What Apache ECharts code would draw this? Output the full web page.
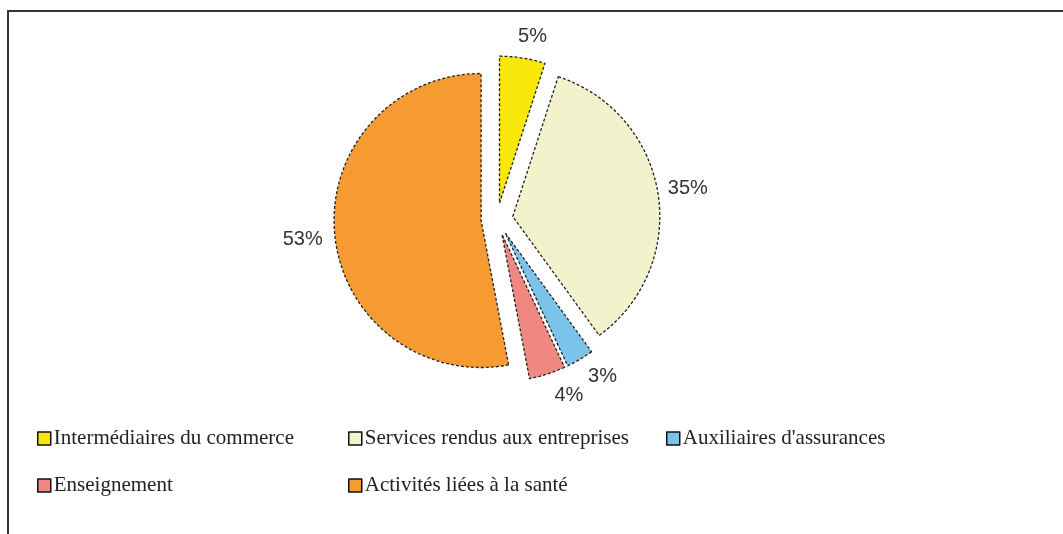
<!DOCTYPE html>
<html style="height: 100%">
   <head>
       <meta charset="utf-8">
   </head>
   <body style="height: 100%; margin: 0; background: #fff">
       <div id="container" style="width: 1063px; height: 534px"></div>
       <script type="text/javascript" src="https://cdn.jsdelivr.net/npm/echarts@6/dist/echarts.min.js"></script>
       <script type="text/javascript">
// categories, clockwise from 12 o'clock
var categories = [
    "Intermédiaires du commerce",
    "Services rendus aux entreprises",
    "Auxiliaires d'assurances",
    "Enseignement",
    "Activités liées à la santé"
];
var shares = [5, 35, 3, 4, 53];
var colors = ['#F9E60A', '#F2F2CC', '#7CC3EA', '#F08882', '#F59B32'];
// small nudges so the % labels sit where the original placed them
var labelNudge = [[-15, -12], [-9, -3], [-6, 9], [-5, 12], [7, 4]];

var dom = document.getElementById("container");
var myChart = echarts.init(dom);
option = null;

var pieData = [];
for (var i = 0; i < categories.length; i++) {
    pieData.push({
        name: categories[i],
        value: shares[i],
        selected: true,
        itemStyle: {color: colors[i]}
    });
}

var legendBase = {
    orient: 'vertical',
    icon: 'rect',
    padding: 0,
    itemWidth: 13,
    itemHeight: 13,
    itemGap: 26,
    selectedMode: false,
    itemStyle: {
        borderColor: '#111',
        borderWidth: 1.5,
        borderType: 'solid'
    },
    textStyle: {
        fontFamily: 'Liberation Serif',
        fontSize: 21,
        color: '#222',
        padding: [0, 0, 0, -2]
    }
};

option = {
    backgroundColor: '#fff',
    animation: false,
    graphic: [{
        type: 'rect',
        shape: {x: 8, y: 11, width: 1200, height: 700},
        style: {fill: 'none', stroke: '#333', lineWidth: 2}
    }],
    legend: [
        Object.assign({}, legendBase, {left: 37, top: 428, data: [categories[0], categories[3]]}),
        Object.assign({}, legendBase, {left: 348, top: 428, data: [categories[1], categories[4]]}),
        Object.assign({}, legendBase, {left: 666, top: 428, data: [categories[2]]})
    ],
    series: [
        {
            name: 'Répartition',
            type: 'pie',
            center: [497, 219],
            radius: 147,
            startAngle: 90,
            clockwise: true,
            selectedMode: 'multiple',
            selectedOffset: 16,
            avoidLabelOverlap: false,
            emphasis: {disabled: true},
            itemStyle: {
                borderColor: '#222',
                borderWidth: 1.3,
                borderType: [3, 2]
            },
            label: {
                show: true,
                position: 'outside',
                formatter: '{c}%',
                fontFamily: 'Liberation Sans',
                fontSize: 20,
                color: '#333'
            },
            labelLine: {
                show: false,
                length: 10,
                length2: 4
            },
            labelLayout: function (params) {
                var n = labelNudge[params.dataIndex];
                return {dx: n[0], dy: n[1]};
            },
            data: pieData
        }
    ]
};
if (option && typeof option === "object") {
    myChart.setOption(option, true);
}
       </script>
   </body>
</html>
